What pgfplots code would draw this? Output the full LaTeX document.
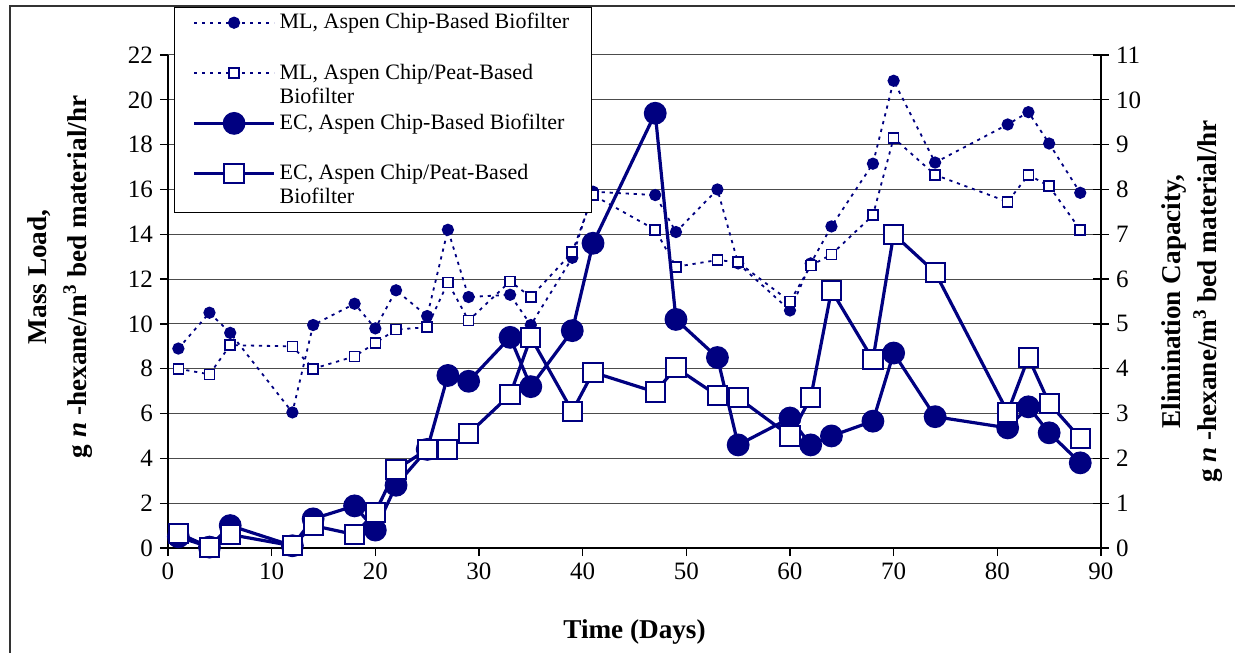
\documentclass[border=0pt]{standalone}
\usepackage{fontspec}
\setmainfont{Liberation Serif}
\usepackage{pgfplots}
\pgfplotsset{compat=1.18}
\definecolor{navy}{HTML}{000080}

% Mass load (ML) series, g n-hexane / m^3 bed material / hr
\pgfplotstableread{
day mlchip mlpeat
1   8.90  8.00
4   10.50 7.75
6   9.60  9.05
12  6.05  9.00
14  9.95  8.00
18  10.90 8.55
20  9.80  9.15
22  11.50 9.75
25  10.35 9.85
27  14.20 11.85
29  11.20 10.15
33  11.30 11.90
35  9.95  11.20
39  12.95 13.20
41  15.90 15.75
47  15.75 14.20
49  14.10 12.55
53  16.00 12.85
55  12.70 12.75
60  10.60 11.00
62  12.70 12.60
64  14.35 13.10
68  17.15 14.85
70  20.85 18.30
74  17.20 16.65
81  18.90 15.45
83  19.45 16.65
85  18.05 16.15
88  15.85 14.20
}\mltable

% Elimination capacity (EC) series, same units, right-hand axis
\pgfplotstableread{
day ecchip ecpeat
1   0.25 0.33
4   0.02 0.02
6   0.50 0.30
12  0.05 0.05
14  0.65 0.50
18  0.94 0.30
20  0.40 0.80
22  1.40 1.75
25  2.20 2.20
27  3.85 2.20
29  3.72 2.55
33  4.70 3.42
35  3.60 4.70
39  4.85 3.05
41  6.80 3.92
47  9.70 3.48
49  5.10 4.02
53  4.25 3.40
55  2.30 3.35
60  2.90 2.50
62  2.30 3.35
64  2.50 5.75
68  2.83 4.20
70  4.35 7.00
74  2.93 6.15
81  2.68 3.03
83  3.15 4.25
85  2.57 3.23
88  1.90 2.45
}\ectable

\pgfplotsset{
  mlchip/.style={navy, line width=0.9bp, dash pattern=on 1.6bp off 2.4bp,
    mark=*, mark size=2.6bp, mark options={solid, fill=navy}},
  mlpeat/.style={navy, line width=0.9bp, dash pattern=on 1.6bp off 2.4bp,
    mark=square*, mark size=2.5bp, mark options={solid, fill=white, line width=0.8bp}},
  ecchip/.style={navy, line width=1.6bp, mark=*, mark size=4.9bp,
    mark options={solid, fill=navy}},
  ecpeat/.style={navy, line width=1.6bp, mark=square*, mark size=4.8bp,
    mark options={solid, fill=white, line width=1bp}},
  frame/.style={scale only axis, width=466.5bp, height=246.5bp,
    at={(0,0)}, anchor=south west, xmin=0, xmax=90,
    /pgf/number format/assume math mode=true,
    tick label style={font=\fontsize{12.5bp}{15bp}\selectfont},
    axis line style={line width=0.6bp},
    major tick style={line width=0.6bp, black},
    label style={font=\bfseries\fontsize{13.6bp}{20bp}\selectfont, align=center}},
}

\begin{document}
\begin{tikzpicture}
\useasboundingbox (-84bp,-52.5bp) rectangle (533.5bp,274bp);
\draw[black!80, line width=0.6bp] (-79bp,-60bp) -- (-79bp,271bp) -- (540bp,271bp);

% Left axis: mass load
\begin{axis}[frame,
  ymin=0, ymax=22,
  xtick={0,10,...,90}, ytick={0,2,...,22},
  axis x line*=bottom, axis y line*=left,
  tick align=outside, major tick length=4bp,
  ymajorgrids, grid style={black!70, line width=0.5bp},
  xlabel={Time (Days)},
  xlabel style={at={(axis description cs:0.5,-0.1704)}, anchor=center},
  ylabel={Mass Load,\\g \textit{n} -hexane/m\textsuperscript{3} bed material/hr},
  ylabel style={at={(axis description cs:-0.1158,0.55)}, anchor=center},
]
\addplot[mlchip] table[x=day, y=mlchip] {\mltable};
\addplot[mlpeat] table[x=day, y=mlpeat] {\mltable};
\end{axis}

% Right axis: elimination capacity, with the shared legend
\begin{axis}[frame,
  ymin=0, ymax=11, ytick={0,1,...,11},
  axis y line*=right, axis x line=none,
  tick align=center, major tick length=8bp,
  ylabel={Elimination Capacity,\\g \textit{n} -hexane/m\textsuperscript{3} bed material/hr},
  ylabel style={at={(axis description cs:1.0975,0.5)}, anchor=center,
    font=\bfseries\fontsize{13.6bp}{18bp}\selectfont},
  legend cell align=left,
  legend style={at={(axis description cs:0.0064,1.0974)}, anchor=north west,
    draw=black, line width=0.5bp, fill=white,
    inner xsep=9bp, inner ysep=1bp, row sep=0bp,
    cells={align=left},
    font=\fontsize{11bp}{12bp}\selectfont},
  legend image code/.code={
    \draw[mark repeat=2, mark phase=2]
      plot coordinates {(0bp,6bp) (20bp,6bp) (40bp,6bp)};},
]
\addlegendimage{mlchip}
\addlegendentry{ML, Aspen Chip-Based Biofilter\\\strut}
\addlegendimage{mlpeat}
\addlegendentry{ML, Aspen Chip/Peat-Based\\Biofilter}
\addplot[ecchip] table[x=day, y=ecchip] {\ectable};
\addlegendentry{EC, Aspen Chip-Based Biofilter\\\strut}
\addplot[ecpeat] table[x=day, y=ecpeat] {\ectable};
\addlegendentry{EC, Aspen Chip/Peat-Based\\Biofilter}
\end{axis}
\end{tikzpicture}
\end{document}
